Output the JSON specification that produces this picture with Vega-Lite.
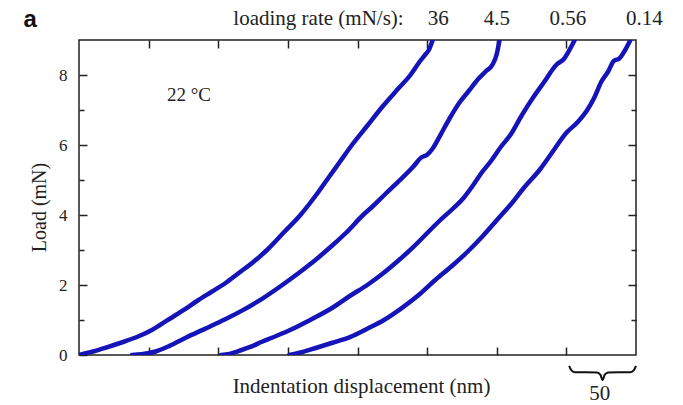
{
  "$schema": "https://vega.github.io/schema/vega-lite/v6.json",
  "width": 557,
  "height": 315,
  "autosize": "none",
  "padding": {"left": 79, "top": 40, "right": 47, "bottom": 50},
  "background": "white",
  "config": {
    "view": {"stroke": "#222", "strokeWidth": 1.5},
    "axis": {"labelFont": "Liberation Serif", "titleFont": "Liberation Serif", "labelColor": "#222", "titleColor": "#222", "tickColor": "#222", "domain": false, "grid": false}
  },
  "datasets": {
    "curves": [
      {"rate": "36", "nm": 0, "load": 0}, {"rate": "36", "nm": 10, "load": 0.1}, {"rate": "36", "nm": 20, "load": 0.22}, {"rate": "36", "nm": 30, "load": 0.35}, {"rate": "36", "nm": 42, "load": 0.52}, {"rate": "36", "nm": 53, "load": 0.73}, {"rate": "36", "nm": 63, "load": 0.98}, {"rate": "36", "nm": 75, "load": 1.28}, {"rate": "36", "nm": 85, "load": 1.55}, {"rate": "36", "nm": 95, "load": 1.8}, {"rate": "36", "nm": 105, "load": 2.05}, {"rate": "36", "nm": 115, "load": 2.35}, {"rate": "36", "nm": 125, "load": 2.65}, {"rate": "36", "nm": 135, "load": 3.0}, {"rate": "36", "nm": 147, "load": 3.5}, {"rate": "36", "nm": 159, "load": 4.0}, {"rate": "36", "nm": 168, "load": 4.45}, {"rate": "36", "nm": 178, "load": 5.0}, {"rate": "36", "nm": 187, "load": 5.5}, {"rate": "36", "nm": 196, "load": 6.0}, {"rate": "36", "nm": 207, "load": 6.55}, {"rate": "36", "nm": 218, "load": 7.1}, {"rate": "36", "nm": 229, "load": 7.6}, {"rate": "36", "nm": 238, "load": 8.0}, {"rate": "36", "nm": 245, "load": 8.4}, {"rate": "36", "nm": 249, "load": 8.6}, {"rate": "36", "nm": 251, "load": 8.7}, {"rate": "36", "nm": 254, "load": 9.0},
      {"rate": "4.5", "nm": 38, "load": 0}, {"rate": "4.5", "nm": 45, "load": 0.02}, {"rate": "4.5", "nm": 55, "load": 0.1}, {"rate": "4.5", "nm": 65, "load": 0.26}, {"rate": "4.5", "nm": 77, "load": 0.5}, {"rate": "4.5", "nm": 90, "load": 0.74}, {"rate": "4.5", "nm": 105, "load": 1.02}, {"rate": "4.5", "nm": 118, "load": 1.29}, {"rate": "4.5", "nm": 132, "load": 1.62}, {"rate": "4.5", "nm": 146, "load": 2.0}, {"rate": "4.5", "nm": 158, "load": 2.35}, {"rate": "4.5", "nm": 170, "load": 2.72}, {"rate": "4.5", "nm": 181, "load": 3.1}, {"rate": "4.5", "nm": 192, "load": 3.5}, {"rate": "4.5", "nm": 204, "load": 4.0}, {"rate": "4.5", "nm": 211, "load": 4.25}, {"rate": "4.5", "nm": 220, "load": 4.6}, {"rate": "4.5", "nm": 230, "load": 4.98}, {"rate": "4.5", "nm": 240, "load": 5.38}, {"rate": "4.5", "nm": 246, "load": 5.65}, {"rate": "4.5", "nm": 250, "load": 5.72}, {"rate": "4.5", "nm": 254, "load": 5.9}, {"rate": "4.5", "nm": 260, "load": 6.32}, {"rate": "4.5", "nm": 266, "load": 6.75}, {"rate": "4.5", "nm": 273, "load": 7.2}, {"rate": "4.5", "nm": 280, "load": 7.55}, {"rate": "4.5", "nm": 287, "load": 7.9}, {"rate": "4.5", "nm": 292, "load": 8.1}, {"rate": "4.5", "nm": 297, "load": 8.3}, {"rate": "4.5", "nm": 300, "load": 8.6}, {"rate": "4.5", "nm": 302, "load": 9.0},
      {"rate": "0.56", "nm": 102, "load": 0}, {"rate": "0.56", "nm": 108, "load": 0.03}, {"rate": "0.56", "nm": 115, "load": 0.12}, {"rate": "0.56", "nm": 123, "load": 0.23}, {"rate": "0.56", "nm": 131, "load": 0.37}, {"rate": "0.56", "nm": 139, "load": 0.5}, {"rate": "0.56", "nm": 152, "load": 0.72}, {"rate": "0.56", "nm": 166, "load": 1.0}, {"rate": "0.56", "nm": 182, "load": 1.35}, {"rate": "0.56", "nm": 195, "load": 1.7}, {"rate": "0.56", "nm": 207, "load": 2.0}, {"rate": "0.56", "nm": 218, "load": 2.32}, {"rate": "0.56", "nm": 230, "load": 2.72}, {"rate": "0.56", "nm": 240, "load": 3.08}, {"rate": "0.56", "nm": 248, "load": 3.4}, {"rate": "0.56", "nm": 258, "load": 3.8}, {"rate": "0.56", "nm": 269, "load": 4.2}, {"rate": "0.56", "nm": 276, "load": 4.48}, {"rate": "0.56", "nm": 283, "load": 4.85}, {"rate": "0.56", "nm": 289, "load": 5.2}, {"rate": "0.56", "nm": 296, "load": 5.55}, {"rate": "0.56", "nm": 303, "load": 5.95}, {"rate": "0.56", "nm": 310, "load": 6.3}, {"rate": "0.56", "nm": 318, "load": 6.85}, {"rate": "0.56", "nm": 326, "load": 7.35}, {"rate": "0.56", "nm": 334, "load": 7.8}, {"rate": "0.56", "nm": 343, "load": 8.3}, {"rate": "0.56", "nm": 348, "load": 8.45}, {"rate": "0.56", "nm": 352, "load": 8.7}, {"rate": "0.56", "nm": 356, "load": 9.0},
      {"rate": "0.14", "nm": 151, "load": 0}, {"rate": "0.14", "nm": 160, "load": 0.08}, {"rate": "0.14", "nm": 170, "load": 0.2}, {"rate": "0.14", "nm": 182, "load": 0.35}, {"rate": "0.14", "nm": 195, "load": 0.52}, {"rate": "0.14", "nm": 207, "load": 0.75}, {"rate": "0.14", "nm": 219, "load": 1.0}, {"rate": "0.14", "nm": 231, "load": 1.32}, {"rate": "0.14", "nm": 245, "load": 1.75}, {"rate": "0.14", "nm": 256, "load": 2.15}, {"rate": "0.14", "nm": 268, "load": 2.55}, {"rate": "0.14", "nm": 279, "load": 2.95}, {"rate": "0.14", "nm": 290, "load": 3.4}, {"rate": "0.14", "nm": 300, "load": 3.85}, {"rate": "0.14", "nm": 310, "load": 4.3}, {"rate": "0.14", "nm": 320, "load": 4.8}, {"rate": "0.14", "nm": 331, "load": 5.3}, {"rate": "0.14", "nm": 340, "load": 5.8}, {"rate": "0.14", "nm": 350, "load": 6.35}, {"rate": "0.14", "nm": 358, "load": 6.65}, {"rate": "0.14", "nm": 365, "load": 7.0}, {"rate": "0.14", "nm": 370, "load": 7.35}, {"rate": "0.14", "nm": 375, "load": 7.8}, {"rate": "0.14", "nm": 380, "load": 8.1}, {"rate": "0.14", "nm": 384, "load": 8.4}, {"rate": "0.14", "nm": 388, "load": 8.47}, {"rate": "0.14", "nm": 392, "load": 8.7}, {"rate": "0.14", "nm": 396, "load": 9.0}
    ],
    "labels": [
      {"text": "loading rate (mN/s):", "nm": 172, "load": 9.6},
      {"text": "36", "nm": 258, "load": 9.6},
      {"text": "4.5", "nm": 300, "load": 9.6},
      {"text": "0.56", "nm": 351, "load": 9.6},
      {"text": "0.14", "nm": 406, "load": 9.6},
      {"text": "50", "nm": 374, "load": -1.1}
    ],
    "note": [
      {"text": "22 °C", "nm": 79, "load": 7.43}
    ],
    "panel": [
      {"text": "a", "nm": -35, "load": 9.57}
    ],
    "brace": [
      {"nm": 352, "load": -0.31}, {"nm": 353.5, "load": -0.43}, {"nm": 356, "load": -0.49}, {"nm": 372, "load": -0.5}, {"nm": 374.5, "load": -0.57}, {"nm": 376, "load": -0.72}, {"nm": 377.5, "load": -0.57}, {"nm": 380, "load": -0.5}, {"nm": 396, "load": -0.49}, {"nm": 398.5, "load": -0.43}, {"nm": 400, "load": -0.31}
    ]
  },
  "resolve": {"axis": {"x": "independent", "y": "independent"}},
  "layer": [
    {
      "data": {"name": "curves"},
      "mark": {"type": "line", "color": "#1414b8", "strokeWidth": 4.5, "strokeJoin": "round", "strokeCap": "round", "interpolate": "monotone", "clip": true},
      "encoding": {
        "x": {"field": "nm", "type": "quantitative", "scale": {"domain": [0, 400], "nice": false},
          "axis": {"orient": "bottom", "values": [50, 100, 150, 200, 250, 300, 350], "labels": false, "tickSize": -8, "tickWidth": 1.5, "title": "Indentation displacement (nm)", "titleFontSize": 21, "titleFontWeight": "normal", "titleX": 282, "titleY": 31, "titleBaseline": "middle"}},
        "y": {"field": "load", "type": "quantitative", "scale": {"domain": [0, 9], "nice": false},
          "axis": {"orient": "left", "values": [0, 1, 2, 3, 4, 5, 6, 7, 8], "labelExpr": "datum.value % 2 === 0 ? datum.label : ''", "labelFontSize": 17, "labelPadding": 20, "tickSize": {"condition": {"test": "datum.value % 2 === 1", "value": -5}, "value": -8}, "tickWidth": 1.5, "title": "Load (mN)", "titleFontSize": 20, "titleFontWeight": "normal", "titleX": -40, "titleY": 167, "titleBaseline": "middle", "titleAngle": -90}},
        "detail": {"field": "rate"}
      }
    },
    {
      "data": {"name": "labels"},
      "mark": {"type": "text", "font": "Liberation Serif", "fontSize": 21, "color": "#222", "baseline": "middle", "align": "center", "clip": false},
      "encoding": {
        "x": {"field": "nm", "type": "quantitative",
          "axis": {"orient": "top", "values": [50, 100, 150, 200, 250, 300, 350], "labels": false, "tickSize": -8, "tickWidth": 1.5, "title": null}},
        "y": {"field": "load", "type": "quantitative",
          "axis": {"orient": "right", "values": [1, 2, 3, 4, 5, 6, 7, 8], "labels": false, "tickSize": {"condition": {"test": "datum.value % 2 === 1", "value": -5}, "value": -8}, "tickWidth": 1.5, "title": null}},
        "text": {"field": "text"}
      }
    },
    {
      "data": {"name": "note"},
      "mark": {"type": "text", "font": "Liberation Serif", "fontSize": 19, "color": "#222", "baseline": "middle", "align": "center", "clip": false},
      "encoding": {
        "x": {"field": "nm", "type": "quantitative", "axis": null},
        "y": {"field": "load", "type": "quantitative", "axis": null},
        "text": {"field": "text"}
      }
    },
    {
      "data": {"name": "panel"},
      "mark": {"type": "text", "font": "Liberation Sans", "fontSize": 24, "fontWeight": "bold", "color": "#111", "baseline": "middle", "align": "center", "clip": false},
      "encoding": {
        "x": {"field": "nm", "type": "quantitative", "axis": null},
        "y": {"field": "load", "type": "quantitative", "axis": null},
        "text": {"field": "text"}
      }
    },
    {
      "data": {"name": "brace"},
      "mark": {"type": "line", "color": "#111", "strokeWidth": 2, "interpolate": "monotone", "clip": false},
      "encoding": {
        "x": {"field": "nm", "type": "quantitative", "axis": null},
        "y": {"field": "load", "type": "quantitative", "axis": null}
      }
    }
  ]
}
